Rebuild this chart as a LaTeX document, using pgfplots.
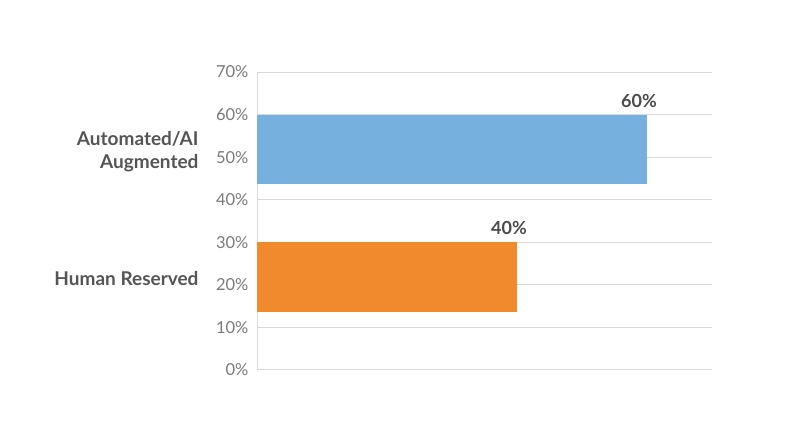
\documentclass[border=0pt]{standalone}
\usepackage{pgfplots}
\pgfplotsset{compat=1.18}
\usepackage{fontspec}
\setmainfont{Lato}
\definecolor{barblue}{HTML}{76B0DE}
\definecolor{barorange}{HTML}{F08A2C}
\definecolor{ticktxt}{HTML}{7A7A7A}
\definecolor{cattxt}{HTML}{555555}
\definecolor{valtxt}{HTML}{4A4A4A}
\definecolor{gridc}{HTML}{D9D9D9}
\begin{document}
\begin{tikzpicture}[x=1pt,y=1pt]
\useasboundingbox (0,0) rectangle (800,447);
\begin{axis}[
  at={(257pt,77pt)}, anchor=south west,
  scale only axis, width=455pt, height=298pt,
  xmin=0, xmax=70, ymin=0, ymax=70,
  xbar, bar width=16.3, bar shift=0pt,
  axis x line=none,
  axis y line=left,
  y axis line style={draw=gridc, line width=1pt, -},
  ytick={0,10,20,30,40,50,60,70},
  yticklabel={\pgfmathprintnumber{\tick}\%},
  yticklabel style={font=\fontsize{16.5}{19}\selectfont, text=ticktxt, xshift=-5pt},
  /pgf/number format/assume math mode=true,
  major tick length=0pt,
  ymajorgrids, grid style={draw=gridc, line width=1pt},
  point meta=x,
  nodes near coords={\pgfmathprintnumber{\pgfplotspointmeta}\%},
  every node near coord/.style={anchor=south, inner sep=0pt, xshift=-8pt, yshift=42pt,
     font=\fontsize{18}{20}\selectfont\bfseries, text=valtxt},
  clip=false,
]
\addplot[fill=barblue, draw=none] coordinates {(60,51.75)};
\addplot[fill=barorange, draw=none] coordinates {(40,21.85)};
\node[anchor=east, align=right, xshift=-55pt, font=\fontsize{19}{23}\selectfont\bfseries, text=cattxt]
  at (axis cs:0,51.3) {Automated/AI\\Augmented};
\node[anchor=east, align=right, xshift=-55pt, font=\fontsize{19}{23}\selectfont\bfseries, text=cattxt]
  at (axis cs:0,21.4) {Human Reserved};
\end{axis}
\end{tikzpicture}
\end{document}
